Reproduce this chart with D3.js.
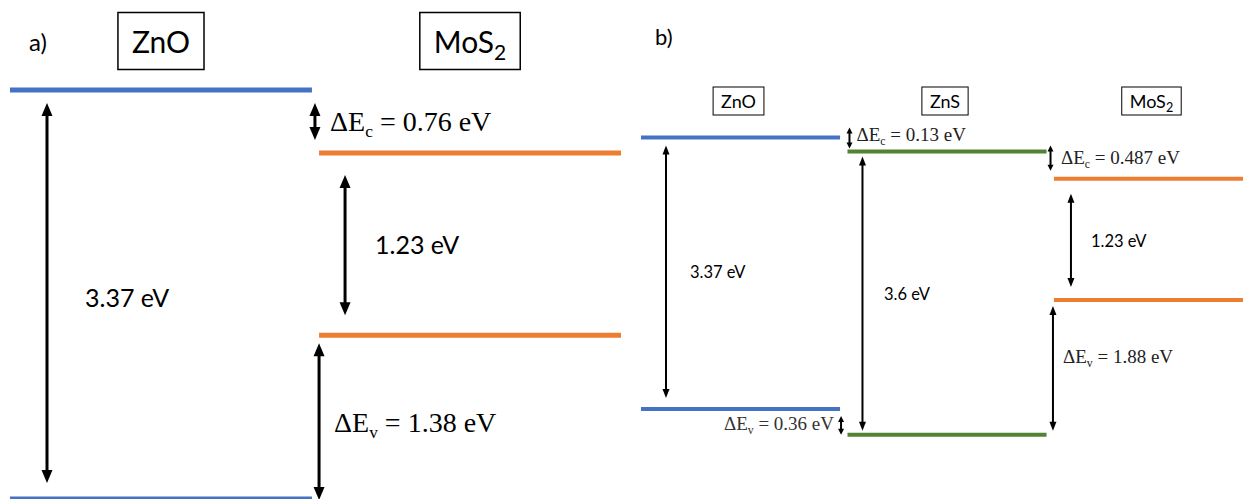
<!DOCTYPE html>
<html><head><meta charset="utf-8">
<script src="https://cdn.jsdelivr.net/npm/d3@7"></script>
<style>html,body{margin:0;padding:0;background:#fff;overflow:hidden}</style>
</head><body>
<svg id="c" width="1243" height="499"></svg>
<script>
// ---- data (band edges in eV, relative to ZnO conduction band as drawn) ----
const materialsA = ["ZnO", "MoS2"];
const cbA = [0, -0.52];
const vbA = [-3.37, -2.02];
const gapLabelsA = ["3.37 eV", "1.23 eV"];
const offsetLabelsA = ["0.76 eV", "1.38 eV"];

const materialsB = ["ZnO", "ZnS", "MoS2"];
const cbB = [0, -0.174, -0.513];
const vbB = [-3.37, -3.69, -2.017];
const gapLabelsB = ["3.37 eV", "3.6 eV", "1.23 eV"];
const cOffsetLabelsB = ["0.13 eV", "0.487 eV"];
const vOffsetLabelsB = ["0.36 eV", "1.88 eV"];

// ---- styles ----
const bandColor = {ZnO: "#4472C4", ZnS: "#548235", MoS2: "#ED7D31"};
const SANS = "Lato, 'Open Sans', sans-serif";
const SERIF = "'Liberation Serif', 'Times New Roman', serif";

const svg = d3.select("#c");

function arrow(g, x, y1, y2, o) {
  const {w, hw, hl} = o;
  g.append("line").attr("x1", x).attr("x2", x).attr("y1", y1 + hl * 0.8).attr("y2", y2 - hl * 0.8)
    .attr("stroke", "#000").attr("stroke-width", w);
  g.append("path").attr("d", `M${x},${y1}L${x - hw / 2},${y1 + hl}L${x + hw / 2},${y1 + hl}Z`).attr("fill", "#000");
  g.append("path").attr("d", `M${x},${y2}L${x - hw / 2},${y2 - hl}L${x + hw / 2},${y2 - hl}Z`).attr("fill", "#000");
}

function matLabel(g, name, cx, cy, size, padX, h, sw) {
  const t = g.append("text").attr("x", cx).attr("y", cy).attr("text-anchor", "middle")
    .attr("dominant-baseline", "central").attr("font-family", SANS).attr("font-size", size).attr("fill", "#000");
  if (name === "MoS2") {
    t.append("tspan").text("MoS");
    t.append("tspan").text("2").attr("font-size", size * 0.7).attr("dy", size * 0.33);
  } else t.text(name);
  const bb = t.node().getBBox();
  g.insert("rect", "text").attr("x", bb.x - padX).attr("y", cy - h / 2).attr("width", bb.width + 2 * padX)
    .attr("height", h).attr("fill", "none").attr("stroke", "#000").attr("stroke-width", sw);
}

function deltaText(g, x, y, sub, value, size, anchor, fill) {
  const t = g.append("text").attr("x", x).attr("y", y).attr("font-family", SERIF).attr("font-size", size)
    .attr("text-anchor", anchor || "start").attr("fill", fill || "#000");
  t.append("tspan").text("\u0394E");
  t.append("tspan").text(sub).attr("font-size", size * 0.62).attr("dy", size * 0.22);
  t.append("tspan").text(" = " + value).attr("dy", -size * 0.22);
  return t;
}

// ================= Panel a =================
const gA = svg.append("g");
const xA = d3.scaleBand().domain(materialsA).range([10, 621]).paddingInner(0.023);
const yA = d3.scaleLinear().domain([0, -3.37]).range([90, 499]);
const bwA = xA.bandwidth();

gA.append("text").attr("x", 29).attr("y", 51).attr("font-family", SANS).attr("font-size", 24).text("a)");

materialsA.forEach((m, i) => {
  [cbA[i], vbA[i]].forEach(e => {
    gA.append("line").attr("x1", xA(m)).attr("x2", xA(m) + bwA).attr("y1", yA(e)).attr("y2", yA(e))
      .attr("stroke", bandColor[m]).attr("stroke-width", 5);
  });
  matLabel(gA, m, xA(m) + bwA / 2, 41, 30, 14, 57, 1.5);
});

const oA = {w: 3, hw: 11, hl: 13};
// ZnO gap
arrow(gA, xA("ZnO") + 37, yA(cbA[0]) + 13, yA(vbA[0]) - 16, oA);
gA.append("text").attr("x", 85).attr("y", (yA(cbA[0]) + yA(vbA[0])) / 2 + 2).attr("dominant-baseline", "central")
  .attr("font-family", SANS).attr("font-size", 25).text(gapLabelsA[0]);
// ΔEc
arrow(gA, xA("ZnO") + bwA + 3, yA(cbA[0]) + 13, yA(cbA[1]) - 13, oA);
deltaText(gA, xA("MoS2") + 11, 131, "c", offsetLabelsA[0], 28);
// MoS2 gap
arrow(gA, xA("MoS2") + 26, yA(cbA[1]) + 22, yA(vbA[1]) - 20, oA);
gA.append("text").attr("x", xA("MoS2") + 56).attr("y", (yA(cbA[1]) + yA(vbA[1])) / 2).attr("dominant-baseline", "central")
  .attr("font-family", SANS).attr("font-size", 25).text(gapLabelsA[1]);
// ΔEv
arrow(gA, xA("MoS2"), yA(vbA[1]) + 8, yA(vbA[0]) + 1, oA);
deltaText(gA, xA("MoS2") + 15, 432, "v", offsetLabelsA[1], 28);

// ================= Panel b =================
const gB = svg.append("g");
const xB = d3.scaleBand().domain(materialsB).range([641, 1253]).paddingInner(0.036);
const yB = d3.scaleLinear().domain([0, -3.37]).range([137.5, 409]);
const bwB = xB.bandwidth();

gB.append("text").attr("x", 655).attr("y", 45).attr("font-family", SANS).attr("font-size", 22).text("b)");

materialsB.forEach((m, i) => {
  [cbB[i], vbB[i]].forEach(e => {
    gB.append("line").attr("x1", xB(m)).attr("x2", xB(m) + bwB).attr("y1", yB(e)).attr("y2", yB(e))
      .attr("stroke", bandColor[m]).attr("stroke-width", 4);
  });
  matLabel(gB, m, xB(m) + bwB / 2 - 2, 101, 18, 8, 28, 1);
});

const oB = {w: 2, hw: 7, hl: 9};
const oS = {w: 2, hw: 6, hl: 6};
// gaps
arrow(gB, xB("ZnO") + 25, yB(cbB[0]) + 8, yB(vbB[0]) - 11, oB);
gB.append("text").attr("x", 690).attr("y", 272).attr("dominant-baseline", "central")
  .attr("font-family", SANS).attr("font-size", 16.5).text(gapLabelsB[0]);
arrow(gB, xB("ZnS") + 15, yB(cbB[1]) + 5, yB(vbB[1]) - 4, oB);
gB.append("text").attr("x", 884).attr("y", 294).attr("dominant-baseline", "central")
  .attr("font-family", SANS).attr("font-size", 16.5).text(gapLabelsB[1]);
arrow(gB, xB("MoS2") + 17, yB(cbB[2]) + 15, yB(vbB[2]) - 13, oB);
gB.append("text").attr("x", 1091).attr("y", 241).attr("dominant-baseline", "central")
  .attr("font-family", SANS).attr("font-size", 16.5).text(gapLabelsB[2]);
// conduction offsets
arrow(gB, xB("ZnS") + 2, yB(cbB[0]) - 10, yB(cbB[1]) - 3, oS);
deltaText(gB, xB("ZnS") + 9, 141, "c", cOffsetLabelsB[0], 19, "start", "#222");
arrow(gB, xB("ZnS") + bwB + 4, yB(cbB[1]) - 6, yB(cbB[2]) - 8, oS);
deltaText(gB, xB("MoS2") + 7, 164, "c", cOffsetLabelsB[1], 19, "start", "#222");
// valence offsets
arrow(gB, xB("ZnO") + bwB + 1, yB(vbB[0]) + 7, yB(vbB[1]), oS);
deltaText(gB, xB("ZnO") + bwB - 6, 430, "v", vOffsetLabelsB[0], 19, "end", "#333");
arrow(gB, xB("MoS2") - 1, yB(vbB[2]) + 6, yB(vbB[1]) - 4, oB);
deltaText(gB, xB("MoS2") + 9, 363, "v", vOffsetLabelsB[1], 19, "start", "#222");
</script>
</body></html>
